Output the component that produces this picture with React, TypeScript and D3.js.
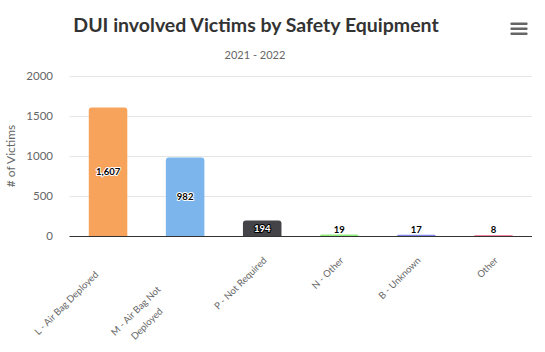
import React from 'react';
import * as d3 from 'd3';

const width = 545;
const height = 352;

const categories = ['L - Air Bag Deployed', 'M - Air Bag Not Deployed', 'P - Not Required', 'N - Other', 'B - Unknown', 'Other'];
const victims = [1607, 982, 194, 19, 17, 8];
const barColors = ['#f7a35c', '#7cb5ec', '#434348', '#90ed7d', '#8085e9', '#f15c80'];
const yTicks = [0, 500, 1000, 1500, 2000];

// label wrapping + slight shifts along the rotated text, like the original
const labelLines = [['L - Air Bag Deployed'], ['M - Air Bag Not', 'Deployed'], ['P - Not Required'], ['N - Other'], ['B - Unknown'], ['Other']];
const labelNudge = [20, 41, 0, 0, 0, 0];

const margin = { top: 76, right: 13, bottom: 116, left: 69.5 };
const fontFamily = 'Lato, "Open Sans", sans-serif';

export default function App() {
  const x = d3.scaleBand<number>()
    .domain(d3.range(categories.length))
    .range([margin.left, width - margin.right])
    .paddingInner(0.5)
    .paddingOuter(0.25);

  const y = d3.scaleLinear().domain([0, 2000]).range([height - margin.bottom, margin.top]);
  const y0 = y(0);
  const fmt = d3.format(',');

  const barPath = (x0: number, top: number, w: number, r: number) => {
    const h = y0 - top;
    const rr = Math.min(r, h, w / 2);
    const p = d3.path();
    p.moveTo(x0, y0);
    p.lineTo(x0, top + rr);
    p.quadraticCurveTo(x0, top, x0 + rr, top);
    p.lineTo(x0 + w - rr, top);
    p.quadraticCurveTo(x0 + w, top, x0 + w, top + rr);
    p.lineTo(x0 + w, y0);
    p.closePath();
    return p.toString();
  };

  // contrast text: white on dark bars that hold the label
  const isDark = (c: string) => d3.hsl(c).l < 0.4;

  return (
    <svg width={width} height={height} style={{ position: 'absolute', left: 0, top: 0, background: '#fff' }} fontFamily={fontFamily}>
      <text x={256} y={32} textAnchor="middle" fontSize={19.5} fontWeight="bold" fill="#333">
        DUI involved Victims by Safety Equipment
      </text>
      <text x={255} y={59} textAnchor="middle" fontSize={11} fill="#666">2021 - 2022</text>

      {/* export menu icon */}
      <g fill="#666">
        {[0, 5, 10].map(d => (
          <rect key={d} x={510.5} y={22.5 + d} width={17} height={2.6} rx={0.8} />
        ))}
      </g>

      {/* grid + y axis labels */}
      {yTicks.map(t => (
        <g key={t}>
          {t > 0 && <line x1={margin.left} x2={width - margin.right} y1={y(t) + 0.5} y2={y(t) + 0.5} stroke="#e6e6e6" />}
          <text x={53} y={y(t)} dy="0.35em" textAnchor="end" fontSize={11.5} fill="#666">{t}</text>
        </g>
      ))}
      <text transform={`translate(15,${(y(0) + y(2000)) / 2}) rotate(-90)`} textAnchor="middle" fontSize={12} fill="#666">
        # of Victims
      </text>

      {/* bars */}
      {victims.map((v, i) => (
        <path key={i} d={barPath(x(i)!, y(v), x.bandwidth(), 3)} fill={barColors[i]} />
      ))}

      <line x1={margin.left} x2={width - margin.right} y1={y0 + 0.5} y2={y0 + 0.5} stroke="#333" strokeWidth={1} />

      {/* data labels */}
      {victims.map((v, i) => {
        const cx = x(i)! + x.bandwidth() / 2;
        const cy = Math.min((y(v) + y0) / 2, y0 - 6.5);
        const dark = isDark(barColors[i]) && y0 - y(v) > 12;
        return (
          <text key={i} x={cx} y={cy} dy="0.35em" textAnchor="middle" fontSize={9.5} fontWeight="bold"
            fill={dark ? '#fff' : '#000'} stroke={dark ? '#000' : '#fff'} strokeWidth={2}
            paintOrder="stroke" strokeLinejoin="round">
            {fmt(v)}
          </text>
        );
      })}

      {/* x axis labels */}
      {labelLines.map((lines, i) => {
        const cx = x(i)! + x.bandwidth() / 2 + 5;
        return (
          <text key={i} transform={`translate(${cx},261) rotate(-45)`} textAnchor="end" fontSize={9.5} fill="#666">
            {lines.map((l, j) => (
              <tspan key={j} x={-labelNudge[i] - j * 14} y={j * 17}>{l}</tspan>
            ))}
          </text>
        );
      })}
    </svg>
  );
}
